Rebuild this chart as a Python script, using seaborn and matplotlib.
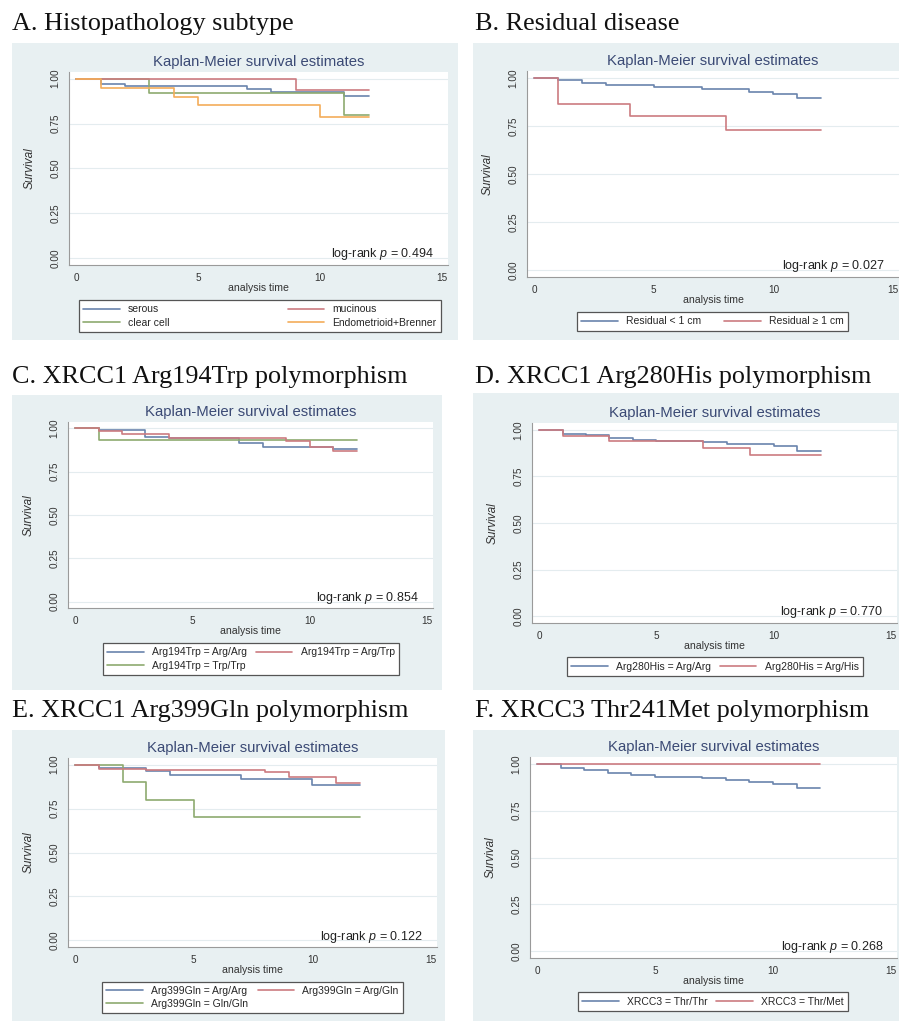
import seaborn as sns
import matplotlib.pyplot as plt
from matplotlib.patches import Rectangle
import pandas as pd

# ---- data ----
# A. Histopathology subtype
a_serous_t = [0, 1, 2, 7, 8, 11, 12]
a_serous_s = [1.0, 0.973, 0.958, 0.94, 0.925, 0.905, 0.905]
a_mucinous_t = [0, 9, 12]
a_mucinous_s = [1.0, 0.938, 0.938]
a_clear_t = [0, 3, 11, 12]
a_clear_s = [1.0, 0.92, 0.80, 0.80]
a_endo_t = [0, 1, 4, 5, 10, 12]
a_endo_s = [1.0, 0.95, 0.90, 0.855, 0.785, 0.785]

# B. Residual disease
b_lt1_t = [0, 1, 2, 3, 5, 7, 9, 10, 11, 12]
b_lt1_s = [1.0, 0.988, 0.976, 0.962, 0.952, 0.941, 0.93, 0.917, 0.898, 0.898]
b_ge1_t = [0, 1, 4, 8, 12]
b_ge1_s = [1.0, 0.867, 0.80, 0.727, 0.727]

# C. XRCC1 Arg194Trp
c_aa_t = [0, 1, 3, 4, 7, 8, 11, 12]
c_aa_s = [1.0, 0.988, 0.952, 0.944, 0.917, 0.894, 0.879, 0.879]
c_at_t = [0, 1, 2, 4, 9, 10, 11, 12]
c_at_s = [1.0, 0.985, 0.965, 0.942, 0.927, 0.894, 0.867, 0.867]
c_tt_t = [0, 1, 12]
c_tt_s = [1.0, 0.935, 0.935]

# D. XRCC1 Arg280His
d_aa_t = [0, 1, 2, 3, 4, 5, 7, 8, 10, 11, 12]
d_aa_s = [1.0, 0.98, 0.973, 0.959, 0.946, 0.941, 0.936, 0.925, 0.911, 0.888, 0.888]
d_ah_t = [0, 1, 3, 7, 9, 12]
d_ah_s = [1.0, 0.968, 0.941, 0.902, 0.866, 0.866]

# E. XRCC1 Arg399Gln
e_aa_t = [0, 1, 3, 4, 7, 10, 12]
e_aa_s = [1.0, 0.979, 0.962, 0.94, 0.919, 0.885, 0.885]
e_ag_t = [0, 1, 3, 8, 9, 11, 12]
e_ag_s = [1.0, 0.972, 0.966, 0.957, 0.929, 0.895, 0.895]
e_gg_t = [0, 2, 3, 5, 12]
e_gg_s = [1.0, 0.90, 0.80, 0.70, 0.70]

# F. XRCC3 Thr241Met
f_tt_t = [0, 1, 2, 3, 4, 5, 7, 8, 9, 10, 11, 12]
f_tt_s = [1.0, 0.977, 0.966, 0.95, 0.941, 0.932, 0.923, 0.914, 0.905, 0.891, 0.87, 0.87]
f_tm_t = [0, 12]
f_tm_s = [1.0, 1.0]

headings = ["A. Histopathology subtype", "B. Residual disease",
            "C. XRCC1 Arg194Trp polymorphism", "D. XRCC1 Arg280His polymorphism",
            "E. XRCC1 Arg399Gln polymorphism", "F. XRCC3 Thr241Met polymorphism"]
pvals = ["0.494", "0.027", "0.854", "0.770", "0.122", "0.268"]

NAVY, MAROON, GREEN, ORANGE = "#6a84ad", "#cc7b80", "#8eaa70", "#f3ad5a"

# each panel: list of (label, times, surv, color)
panels = [
    [("serous", a_serous_t, a_serous_s, NAVY), ("mucinous", a_mucinous_t, a_mucinous_s, MAROON),
     ("clear cell", a_clear_t, a_clear_s, GREEN), ("Endometrioid+Brenner", a_endo_t, a_endo_s, ORANGE)],
    [("Residual < 1 cm", b_lt1_t, b_lt1_s, NAVY), ("Residual \u2265 1 cm", b_ge1_t, b_ge1_s, MAROON)],
    [("Arg194Trp = Arg/Arg", c_aa_t, c_aa_s, NAVY), ("Arg194Trp = Arg/Trp", c_at_t, c_at_s, MAROON),
     ("Arg194Trp = Trp/Trp", c_tt_t, c_tt_s, GREEN)],
    [("Arg280His = Arg/Arg", d_aa_t, d_aa_s, NAVY), ("Arg280His = Arg/His", d_ah_t, d_ah_s, MAROON)],
    [("Arg399Gln = Arg/Arg", e_aa_t, e_aa_s, NAVY), ("Arg399Gln = Arg/Gln", e_ag_t, e_ag_s, MAROON),
     ("Arg399Gln = Gln/Gln", e_gg_t, e_gg_s, GREEN)],
    [("XRCC3 = Thr/Thr", f_tt_t, f_tt_s, NAVY), ("XRCC3 = Thr/Met", f_tm_t, f_tm_s, MAROON)],
]

# ---- layout in pixels (left, top, right, bottom) ----
W, H = 899, 1021
bg_boxes = [(12, 43, 458, 340), (473, 43, 899, 340), (12, 395, 442, 690),
            (473, 393, 899, 690), (12, 730, 445, 1021), (473, 730, 899, 1021)]
ax_boxes = [(69, 72, 448, 265), (527, 71, 899, 277), (68, 422, 433, 608),
            (532, 423, 897, 623), (68, 758, 437, 947), (530, 757, 897, 958)]
leg_boxes = [(74, 299, 446, 333), (572, 311, 853, 332), (98, 642, 404, 676),
             (562, 657, 868, 676), (97, 980, 408, 1015), (573, 992, 853, 1011)]
head_pos = [(12, 30), (475, 30), (12, 383), (475, 383), (12, 717), (475, 717)]


def fbox(b):
    l, t, r, bt = b
    return [l / W, 1 - bt / H, (r - l) / W, (bt - t) / H]


sns.set_theme(style="white")
plt.rcParams['font.family'] = ['Liberation Sans', 'DejaVu Sans']
plt.rcParams['mathtext.fontset'] = 'custom'
plt.rcParams['mathtext.it'] = 'Liberation Sans:italic'
plt.rcParams['mathtext.rm'] = 'Liberation Sans'

fig = plt.figure(figsize=(W / 100, H / 100), dpi=100)
fig.patch.set_facecolor("white")

for i, groups in enumerate(panels):
    l, t, r, b = bg_boxes[i]
    fig.patches.append(Rectangle((l / W, 1 - b / H), (r - l) / W, (b - t) / H,
                                 transform=fig.transFigure, facecolor="#e8f0f2",
                                 edgecolor="none", zorder=-5))
    hx, hy = head_pos[i]
    fig.text(hx / W, 1 - hy / H, headings[i], family="Liberation Serif",
             fontsize=18.8, va="baseline", ha="left", color="#111111")

    ax = fig.add_axes(fbox(ax_boxes[i]))
    rows = []
    for lab, ts, ss, col in groups:
        for tt, sv in zip(ts, ss):
            rows.append({"time": tt, "surv": sv, "group": lab})
    df = pd.DataFrame(rows)
    pal = {g[0]: g[3] for g in groups}
    labels = [g[0] for g in groups]
    # Stata fills legend row-wise, matplotlib column-wise -> reorder
    order = labels[0::2] + labels[1::2]
    sns.lineplot(data=df, x="time", y="surv", hue="group", hue_order=order,
                 palette=pal, estimator=None, drawstyle="steps-post",
                 linewidth=1.2, ax=ax)

    ax.set_facecolor("white")
    ax.set_xlim(-0.3, 15.25)
    ax.set_ylim(-0.037, 1.037)
    ax.set_xticks([0, 5, 10, 15])
    ax.set_yticks([0, 0.25, 0.5, 0.75, 1.0])
    ax.set_yticklabels(["0.00", "0.25", "0.50", "0.75", "1.00"])
    ax.yaxis.grid(True, color="#e4ecef", linewidth=0.8)
    ax.xaxis.grid(False)
    for s in ["top", "right"]:
        ax.spines[s].set_visible(False)
    for s in ["left", "bottom"]:
        ax.spines[s].set_color("#9a9a9a")
        ax.spines[s].set_linewidth(0.8)
    ax.tick_params(axis="both", direction="out", length=3.5, width=0.7,
                   color="#9a9a9a", labelsize=7.2, labelcolor="#333333", pad=2.5)
    ax.tick_params(axis="y", labelrotation=90)
    for lbl in ax.get_yticklabels():
        lbl.set_va("center")
    ax.set_xlabel("analysis time", fontsize=7.6, color="#333333", labelpad=0)
    ax.set_ylabel("Survival", fontsize=8.5, style="italic", color="#333333", labelpad=10.5)
    ax.text(0.962, 0.055, "log-rank $p$ = " + pvals[i], transform=ax.transAxes,
            ha="right", va="center", fontsize=9, color="#222222")

    al, at, ar, ab = ax_boxes[i]
    fig.text((al + ar) / 2 / W, 1 - (at - 10) / H, "Kaplan-Meier survival estimates",
             ha="center", va="center", fontsize=10.7, color="#3b4a75")

    ll, lt, lr, lb = leg_boxes[i]
    sns.move_legend(ax, "center", bbox_to_anchor=(ll / W, 1 - lb / H, (lr - ll) / W, (lb - lt) / H),
                    bbox_transform=fig.transFigure, mode="expand", ncol=2, title=None,
                    frameon=True, fancybox=False, fontsize=7.5, handlelength=3.5,
                    borderpad=0.4, labelspacing=0.3, handletextpad=0.8,
                    edgecolor="#555555", facecolor="white", framealpha=1)
    ax.get_legend().get_frame().set_linewidth(0.9)

fig.savefig("out.png", dpi=100)
